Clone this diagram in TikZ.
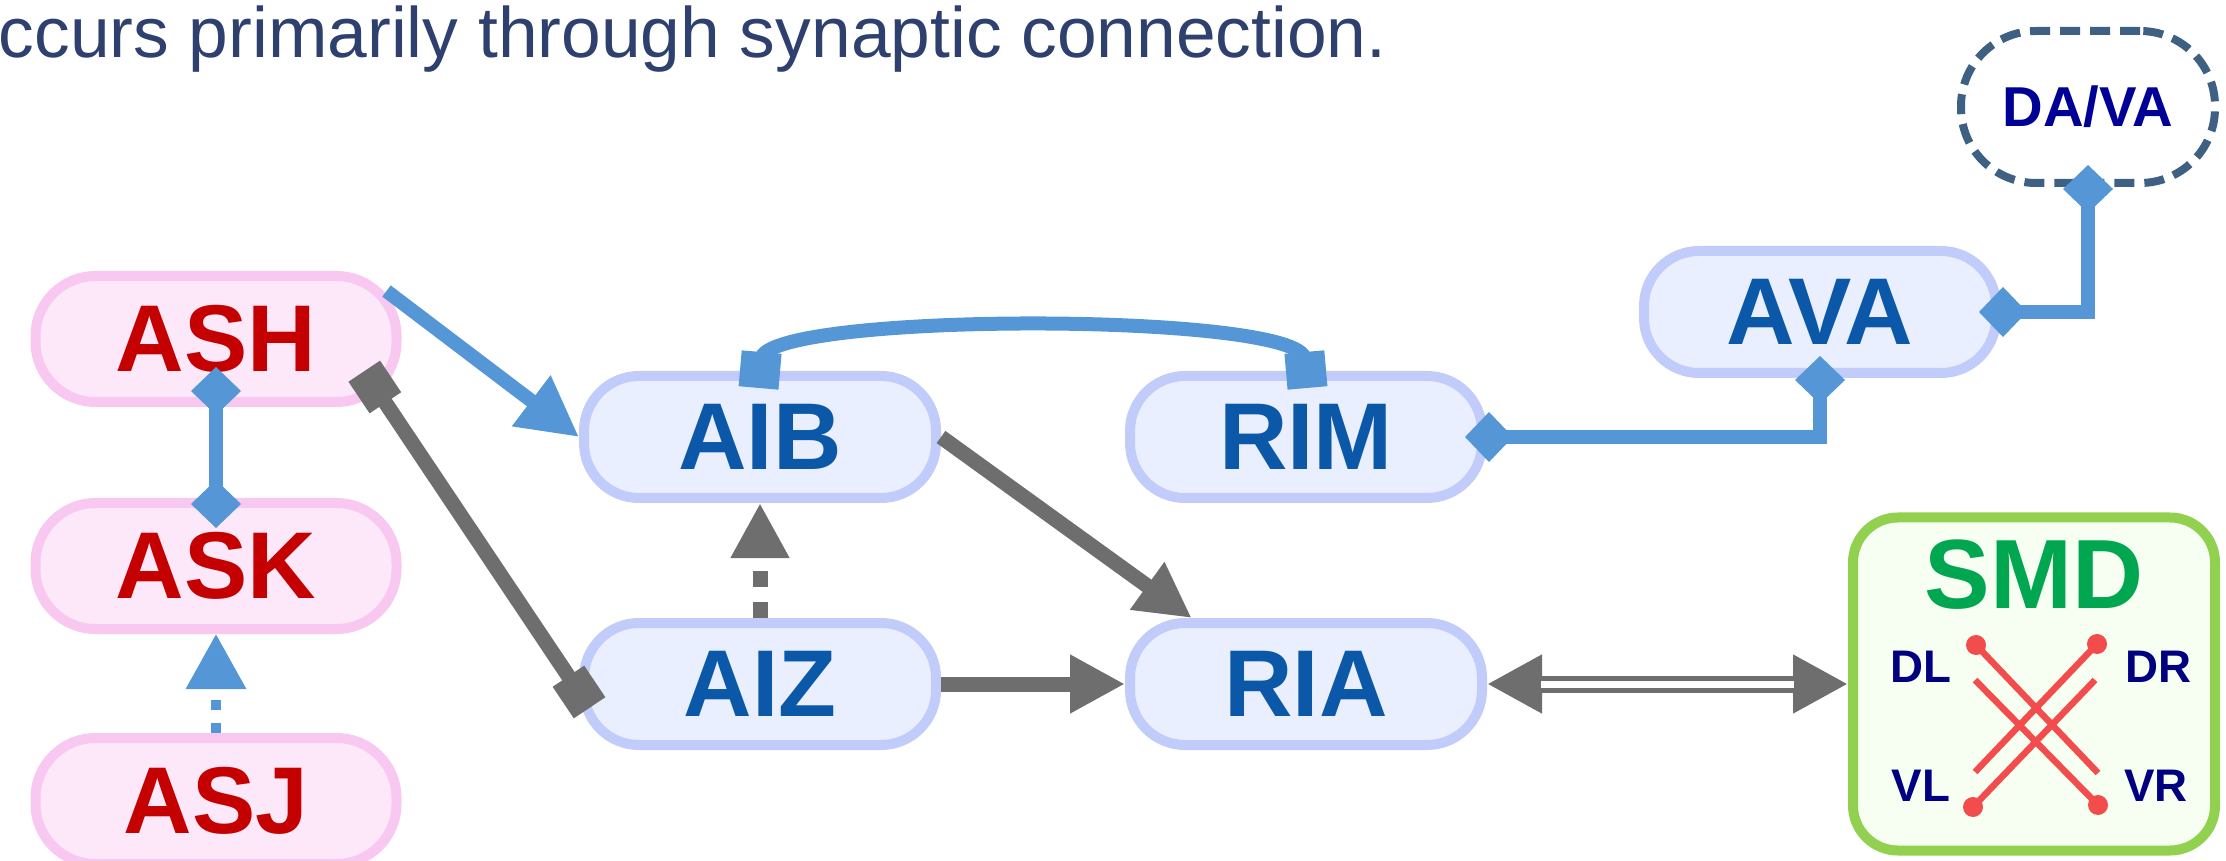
\documentclass[tikz,border=0pt]{standalone}
\usepackage{fontspec}
\setmainfont{Liberation Sans}
\usetikzlibrary{arrows.meta,calc}

\definecolor{titleblue}{RGB}{46,64,110}
\definecolor{pinkline}{RGB}{248,200,240}
\definecolor{pinkfill}{RGB}{253,232,249}
\definecolor{sensred}{RGB}{196,0,0}
\definecolor{cellline}{RGB}{194,204,250}
\definecolor{cellfill}{RGB}{233,239,255}
\definecolor{cellblue}{RGB}{12,88,168}
\definecolor{synblue}{RGB}{84,150,214}
\definecolor{gapgray}{RGB}{110,110,110}
\definecolor{davaline}{RGB}{62,96,130}
\definecolor{davatext}{RGB}{0,0,150}
\definecolor{smdline}{RGB}{146,208,80}
\definecolor{smdfill}{RGB}{247,255,242}
\definecolor{smdgreen}{RGB}{0,166,80}
\definecolor{musred}{RGB}{242,76,76}
\definecolor{musnavy}{RGB}{0,0,128}

\tikzset{
  sensory/.style={draw=pinkline, fill=pinkfill, line width=0.1cm, rounded corners=0.6cm,
    minimum width=3.61cm, minimum height=1.26cm, inner sep=0pt, text=sensred,
    font=\fontsize{27pt}{27pt}\selectfont\bfseries},
  inter/.style={sensory, draw=cellline, fill=cellfill, text=cellblue,
    minimum width=3.52cm, minimum height=1.22cm, rounded corners=0.55cm},
  synline/.style={draw=synblue, line width=0.14cm},
  gapline/.style={draw=gapgray, line width=0.15cm},
  tri/.tip={Triangle[length=0.55cm,width=0.55cm]},
  bigtri/.tip={Triangle[length=0.6cm,width=0.6cm]},
  dia/.tip={Diamond[length=0.48cm,width=0.5cm]},
  sq/.tip={Square[length=0.38cm,width=0.38cm]},
  sqb/.tip={Square[length=0.36cm,width=0.4cm]},
  musline/.style={draw=musred, line width=0.065cm},
  musname/.style={text=musnavy, font=\fontsize{13pt}{13pt}\selectfont\bfseries, inner sep=0pt}
}

\begin{document}
\begin{tikzpicture}
  \useasboundingbox (0,0) rectangle (22.26,8.6);

  % caption line
  \node[anchor=base west, inner sep=0pt, text=titleblue, font=\fontsize{20.3pt}{24pt}\selectfont]
    (caption) at (-0.02,8.02) {ccurs primarily through synaptic connection.};

  % sensory neurons
  \foreach \name/\y in {ASH/5.21, ASK/2.94, ASJ/0.59}
    \node[sensory] (\name) at (2.16,\y) {\name};

  % interneurons
  \node[inter] (AIB) at (7.60,4.23) {AIB};
  \node[inter] (AIZ) at (7.60,1.76) {AIZ};
  \node[inter] (RIM) at (13.06,4.23) {RIM};
  \node[inter] (RIA) at (13.06,1.76) {RIA};
  \node[inter] (AVA) at (18.20,5.48) {AVA};

  % motor neurons
  \node[draw=davaline, dash pattern=on 0.2cm off 0.1cm, line width=0.08cm, rounded corners=0.75cm,
    minimum width=2.54cm, minimum height=1.52cm, inner sep=0pt, text=davatext,
    font=\fontsize{16pt}{16pt}\selectfont\bfseries] (DAVA) at (20.88,7.53) {DA/VA};

  % head muscles box
  \node[draw=smdline, fill=smdfill, line width=0.1cm, rounded corners=0.45cm,
    minimum width=3.62cm, minimum height=3.33cm, inner sep=0pt] (SMD) at (20.34,1.76) {};
  \node[text=smdgreen, inner sep=0pt, font=\fontsize{28pt}{28pt}\selectfont\bfseries]
    (SMDlabel) at ($(SMD.center)+(0,1.09)$) {SMD};
  \node[musname] (DL) at ($(SMD.center)+(-1.13,0.17)$) {DL};
  \node[musname] (DR) at ($(SMD.center)+(1.24,0.17)$) {DR};
  \node[musname] (VL) at ($(SMD.center)+(-1.13,-1.02)$) {VL};
  \node[musname] (VR) at ($(SMD.center)+(1.22,-1.02)$) {VR};

  % crossed muscle arms
  \coordinate (dl) at ($(SMD.center)+(-0.58,0.39)$);
  \coordinate (dr) at ($(SMD.center)+(0.63,0.40)$);
  \coordinate (vl) at ($(SMD.center)+(-0.61,-1.23)$);
  \coordinate (vr) at ($(SMD.center)+(0.64,-1.21)$);
  \coordinate (dlin) at ($(SMD.center)+(-0.59,0.04)$);
  \coordinate (drin) at ($(SMD.center)+(0.61,0.04)$);
  \coordinate (vlin) at ($(SMD.center)+(-0.59,-0.88)$);
  \coordinate (vrin) at ($(SMD.center)+(0.64,-0.89)$);
  \draw[musline] (dl) -- (vrin);
  \draw[musline] (dlin) -- (vr);
  \draw[musline] (dr) -- (vlin);
  \draw[musline] (drin) -- (vl);
  \foreach \p in {dl,dr,vl,vr}
    \fill[musred] (\p) circle (0.1);

  % chemical synapses
  \draw[synline, -bigtri] ($(ASH.east)+(-0.15,0.48)$) -- (AIB.west);
  \draw[synline, dia-dia, shorten <=-0.4cm, shorten >=-0.3cm] (ASH.south) -- (ASK.north);
  \draw[synline, line width=0.1cm, dash pattern=on 0.1cm off 0.13cm,
    -{Triangle[length=0.55cm,width=0.58cm]}] (ASJ.north) -- (ASK.south);
  \draw[synline, sqb-sqb, shorten <=-0.17cm, shorten >=-0.17cm]
    (AIB.north) to[out=85,in=95,looseness=0.28] (RIM.north);
  \draw[synline, dia-dia, shorten <=-0.22cm, shorten >=-0.22cm] (RIM.east) -| (AVA.south);
  \draw[synline, dia-dia, shorten <=-0.22cm, shorten >=-0.22cm] (AVA.east) -| (DAVA.south);

  % gray connections
  \draw[gapline, sq-sq, shorten <=-0.13cm, shorten >=-0.19cm]
    ($(ASH.south east)+(-0.3,0.25)$) -- ($(AIZ.west)+(0,-0.08)$);
  \draw[gapline, dash pattern=on 0.16cm off 0.15cm, -tri] (AIZ.north) -- (AIB.south);
  \draw[gapline, -tri] (AIB.east) -- (RIA.150);
  \draw[gapline, -tri] (AIZ.east) -- (RIA.west);

  % double line to the muscles
  \draw[gapgray, line width=0.17cm, tri-tri] (RIA.east) -- (SMD.west);
  \draw[white, line width=0.07cm, shorten <=0.54cm, shorten >=0.54cm] (RIA.east) -- (SMD.west);
\end{tikzpicture}
\end{document}
